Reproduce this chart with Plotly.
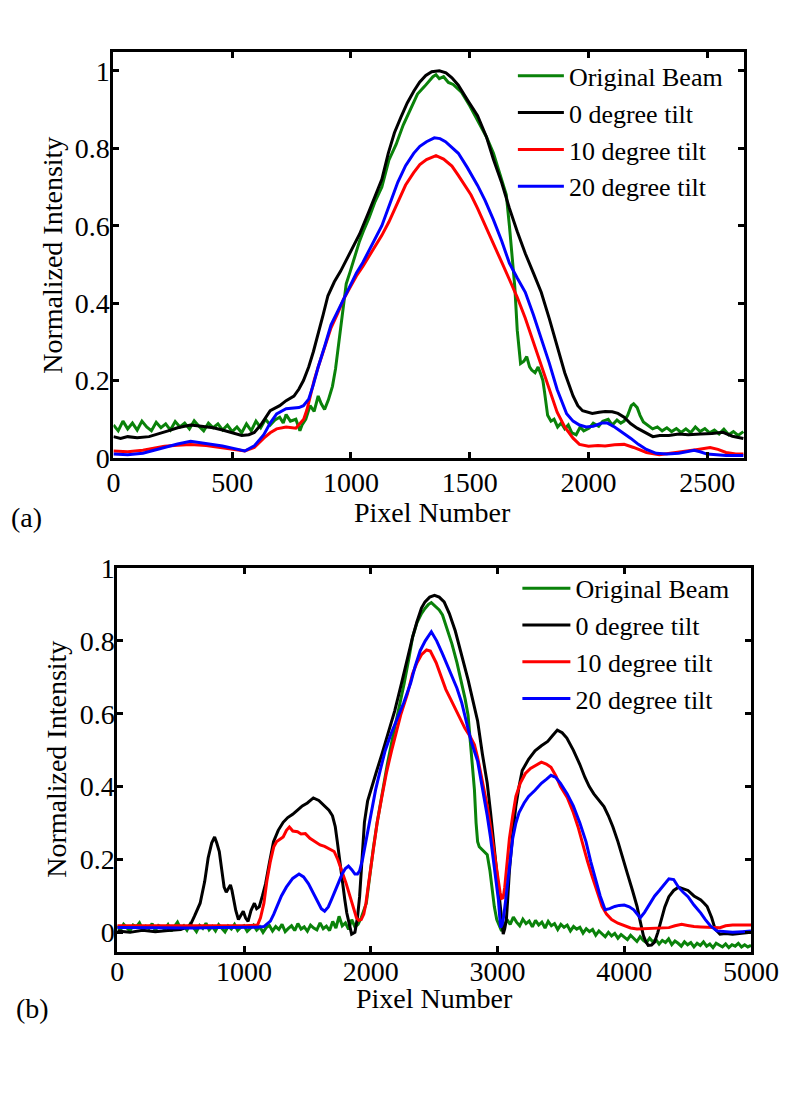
import plotly.graph_objects as go

# ---------------- (a) top panel data ----------------
a_green_x = [0, 20, 40, 60, 80, 100, 120, 140, 160, 180, 200, 220, 240, 260, 280, 300, 320, 340, 360, 380,
             400, 420, 440, 460, 480, 500, 520, 540, 560, 580, 600, 620, 640, 660, 680, 700, 715, 727, 745, 768,
             785, 794, 810, 828, 845, 862, 875, 889, 905, 922, 935, 949, 960, 969, 980, 996, 1015, 1036, 1055, 1076,
             1100, 1130, 1160, 1190, 1220, 1250, 1280, 1310, 1330, 1345, 1358, 1372, 1390, 1410, 1430, 1464, 1500, 1533, 1570, 1600,
             1630, 1654, 1667, 1680, 1690, 1700, 1714, 1728, 1740, 1752, 1761, 1775, 1788, 1800, 1808, 1815, 1828, 1842, 1855, 1870,
             1885, 1900, 1915, 1930, 1948, 1965, 1980, 2003, 2020, 2043, 2060, 2083, 2100, 2120, 2136, 2150, 2165, 2180, 2190, 2205,
             2217, 2231, 2250, 2270, 2290, 2310, 2330, 2350, 2370, 2390, 2410, 2430, 2450, 2470, 2490, 2510, 2530, 2550, 2570, 2590,
             2610, 2630, 2652]
a_green_y = [0.085, 0.07, 0.095, 0.075, 0.09, 0.072, 0.095, 0.08, 0.07, 0.092, 0.078, 0.088, 0.072, 0.094, 0.08, 0.09, 0.075, 0.096, 0.082, 0.07,
             0.09, 0.078, 0.088, 0.072, 0.085, 0.068, 0.08, 0.065, 0.088, 0.07, 0.095, 0.078, 0.1, 0.085, 0.098, 0.105, 0.09, 0.112, 0.095, 0.1,
             0.07, 0.085, 0.1, 0.135, 0.12, 0.16, 0.14, 0.125, 0.15, 0.185, 0.23, 0.3, 0.36, 0.41, 0.45, 0.48, 0.52, 0.56, 0.59, 0.62,
             0.66, 0.7, 0.77, 0.81, 0.86, 0.9, 0.94, 0.96, 0.975, 0.985, 0.99, 0.98, 0.985, 0.97, 0.965, 0.946, 0.91, 0.871, 0.83, 0.787,
             0.73, 0.68, 0.6, 0.5, 0.44, 0.33, 0.244, 0.25, 0.262, 0.235, 0.227, 0.22, 0.235, 0.215, 0.2, 0.17, 0.11, 0.095, 0.1, 0.08,
             0.09, 0.075, 0.085, 0.065, 0.06, 0.08, 0.07, 0.077, 0.09, 0.082, 0.095, 0.1, 0.085, 0.098, 0.09, 0.095, 0.11, 0.135, 0.14, 0.13,
             0.11, 0.093, 0.085, 0.075, 0.08, 0.07, 0.078, 0.068, 0.076, 0.066, 0.075, 0.065, 0.08, 0.068, 0.076, 0.065, 0.072, 0.062, 0.074, 0.06,
             0.068, 0.058, 0.068]

a_black_x = [0, 30, 60, 100, 150, 191, 230, 270, 325, 370, 420, 459, 500, 540, 570, 593, 620, 660, 700, 727,
             760, 781, 800, 822, 842, 862, 883, 903, 930, 956, 996, 1036, 1076, 1100, 1130, 1157, 1183, 1210, 1237, 1265,
             1289, 1315, 1340, 1372, 1400, 1425, 1452, 1490, 1533, 1570, 1600, 1635, 1667, 1700, 1734, 1770, 1801, 1835, 1868, 1900,
             1935, 1955, 1975, 2000, 2016, 2045, 2070, 2100, 2124, 2150, 2177, 2205, 2231, 2271, 2300, 2338, 2380, 2420, 2472, 2520,
             2566, 2606, 2652]
a_black_y = [0.055, 0.05, 0.055, 0.052, 0.055, 0.062, 0.07, 0.078, 0.085, 0.082, 0.078, 0.072, 0.065, 0.058, 0.06, 0.066, 0.085, 0.122, 0.135, 0.148,
             0.16, 0.178, 0.2, 0.235, 0.275, 0.319, 0.37, 0.419, 0.455, 0.482, 0.528, 0.578, 0.637, 0.675, 0.72, 0.787, 0.84, 0.88, 0.917, 0.948,
             0.971, 0.988, 0.998, 1.0, 0.995, 0.982, 0.963, 0.925, 0.884, 0.83, 0.771, 0.71, 0.645, 0.585, 0.528, 0.475, 0.428, 0.36, 0.286, 0.22,
             0.16, 0.135, 0.122, 0.117, 0.115, 0.118, 0.12, 0.119, 0.115, 0.105, 0.089, 0.077, 0.068, 0.055, 0.058, 0.058, 0.062, 0.06, 0.062, 0.063,
             0.066, 0.056, 0.05]

a_red_x = [0, 60, 124, 170, 215, 270, 325, 390, 459, 510, 553, 593, 633, 660, 687, 727, 768, 801, 815, 828,
           845, 862, 890, 916, 945, 969, 1000, 1023, 1050, 1076, 1103, 1130, 1160, 1197, 1230, 1264, 1290, 1318, 1358, 1390,
           1425, 1452, 1479, 1505, 1533, 1565, 1600, 1635, 1667, 1700, 1734, 1768, 1801, 1835, 1868, 1900, 1935, 1962, 2000, 2040,
           2070, 2110, 2150, 2190, 2244, 2298, 2350, 2405, 2460, 2512, 2545, 2579, 2620, 2652]
a_red_y = [0.018, 0.016, 0.02, 0.025, 0.03, 0.033, 0.035, 0.032, 0.027, 0.022, 0.018, 0.027, 0.051, 0.065, 0.075, 0.08, 0.077, 0.1, 0.125, 0.16,
           0.2, 0.235, 0.29, 0.336, 0.375, 0.41, 0.445, 0.47, 0.495, 0.52, 0.548, 0.575, 0.61, 0.662, 0.705, 0.737, 0.758, 0.771, 0.781, 0.772,
           0.754, 0.73, 0.704, 0.68, 0.645, 0.6, 0.55, 0.505, 0.461, 0.415, 0.361, 0.3, 0.235, 0.175, 0.118, 0.08, 0.051, 0.035, 0.03, 0.032,
           0.031, 0.034, 0.035, 0.027, 0.014, 0.008, 0.012, 0.018, 0.022, 0.027, 0.022, 0.014, 0.01, 0.01]

a_blue_x = [0, 60, 124, 170, 215, 270, 325, 390, 459, 510, 553, 593, 633, 660, 687, 727, 760, 781, 800, 822,
            842, 862, 890, 916, 945, 969, 1000, 1023, 1050, 1076, 1103, 1130, 1160, 1197, 1230, 1264, 1290, 1318, 1351, 1375,
            1398, 1425, 1452, 1490, 1533, 1565, 1600, 1635, 1667, 1700, 1734, 1768, 1801, 1835, 1868, 1908, 1935, 1962, 1990, 2020,
            2056, 2080, 2110, 2140, 2177, 2210, 2244, 2285, 2330, 2380, 2420, 2445, 2470, 2499, 2540, 2579, 2620, 2652]
a_blue_y = [0.01, 0.008, 0.012, 0.02, 0.027, 0.036, 0.043, 0.038, 0.031, 0.024, 0.018, 0.031, 0.06, 0.09, 0.114, 0.127, 0.13, 0.13, 0.135, 0.152,
            0.19, 0.235, 0.29, 0.344, 0.38, 0.41, 0.447, 0.478, 0.505, 0.537, 0.57, 0.6, 0.65, 0.712, 0.755, 0.787, 0.805, 0.817, 0.827, 0.825,
            0.817, 0.803, 0.787, 0.75, 0.704, 0.665, 0.615, 0.56, 0.503, 0.465, 0.428, 0.37, 0.311, 0.245, 0.177, 0.114, 0.095, 0.085, 0.08, 0.082,
            0.09, 0.09, 0.08, 0.068, 0.051, 0.035, 0.022, 0.012, 0.01, 0.012, 0.018, 0.02, 0.016, 0.01, 0.008, 0.006, 0.006, 0.006]

# ---------------- (b) bottom panel data ----------------
b_green_x = [0, 25, 50, 75, 100, 125, 150, 175, 200, 225, 250, 275, 300, 325, 350, 375, 400, 425, 450, 475,
             500, 525, 550, 575, 600, 625, 650, 675, 700, 725, 750, 775, 800, 825, 850, 875, 900, 925, 950, 975,
             1000, 1025, 1050, 1075, 1100, 1125, 1150, 1175, 1200, 1225, 1250, 1275, 1300, 1325, 1350, 1375, 1400, 1425, 1450, 1475,
             1500, 1525, 1550, 1575, 1600, 1625, 1650, 1675, 1700, 1725, 1750, 1775, 1800, 1825, 1850, 1875, 1900, 1925,
             1965, 1990, 2020, 2050, 2088, 2130, 2170, 2220, 2264, 2300, 2330, 2365, 2400, 2428, 2455, 2478, 2510, 2540, 2566, 2600,
             2641, 2680, 2717, 2745, 2768, 2790, 2805, 2818, 2831, 2843, 2856, 2869, 2895, 2919, 2940, 2956, 2975, 2994, 3015, 3032,
             3050, 3075, 3100, 3125, 3150, 3175, 3200, 3225, 3250, 3275, 3300, 3325, 3350, 3375, 3400, 3425, 3450, 3475, 3500, 3525,
             3550, 3575, 3600, 3625, 3650, 3675, 3700, 3725, 3750, 3775, 3800, 3825, 3850, 3875, 3900, 3925, 3950, 3975, 4000, 4025,
             4050, 4075, 4100, 4125, 4150, 4175, 4200, 4225, 4250, 4275, 4300, 4325, 4350, 4375, 4400, 4425, 4450, 4475, 4500, 4525,
             4550, 4575, 4600, 4625, 4650, 4675, 4700, 4725, 4750, 4775, 4800, 4825, 4850, 4875, 4900, 4925, 4950, 4975, 5000]
b_green_y = [0.018, 0.006, 0.022, 0.012, 0.004, 0.02, 0.015, 0.026, 0.008, 0.017, 0.011, 0.024, 0.005, 0.019, 0.013, 0.009, 0.021, 0.003, 0.016, 0.028,
             0.01, 0.018, 0.006, 0.023, 0.014, 0.002, 0.019, 0.011, 0.025, 0.007, 0.016, 0.004, 0.021, 0.012, 0.001, 0.017, 0.009, 0.022, 0.005, 0.014,
             0.018, 0.003, 0.012, 0.02, 0.006, 0.015, 0.0, 0.013, 0.019, 0.004, 0.016, 0.008, 0.022, 0.002, 0.011, 0.018, 0.005, 0.024, 0.009, 0.015,
             0.003, 0.02, 0.012, 0.007, 0.026, 0.01, 0.017, 0.005, 0.03, 0.012, 0.044, 0.018, 0.026, 0.008, 0.035, 0.015, 0.022, 0.04,
             0.08, 0.15, 0.23, 0.3, 0.38, 0.46, 0.53, 0.61, 0.684, 0.75, 0.81, 0.85, 0.875, 0.889, 0.9, 0.905, 0.895, 0.885, 0.871, 0.835,
             0.791, 0.74, 0.684, 0.64, 0.595, 0.5, 0.43, 0.391, 0.3, 0.249, 0.235, 0.231, 0.222, 0.213, 0.17, 0.124, 0.07, 0.035, 0.015, 0.004,
             0.015, 0.035, 0.022, 0.042, 0.028, 0.018, 0.036, 0.024, 0.031, 0.015, 0.033, 0.02, 0.028, 0.012, 0.03, 0.018, 0.024, 0.008, 0.022, 0.014,
             0.02, 0.004, 0.016, 0.009, 0.014, -0.002, 0.01, 0.002, 0.008, -0.008, 0.004, -0.004, -0.012, 0.0, -0.01, -0.003, -0.016, -0.006, -0.012, -0.02,
             -0.008, -0.018, -0.025, -0.012, -0.022, -0.028, -0.016, -0.026, -0.02, -0.032, -0.022, -0.028, -0.018, -0.034, -0.024, -0.03, -0.038, -0.026, -0.034, -0.028,
             -0.04, -0.03, -0.036, -0.026, -0.038, -0.032, -0.042, -0.03, -0.036, -0.04, -0.032, -0.042, -0.034, -0.038, -0.03, -0.04, -0.034, -0.04, -0.036]

b_black_x = [0, 100, 200, 300, 400, 500, 554, 579, 610, 654, 690, 717, 745, 768, 785, 805, 825, 843, 860, 880,
             893, 905, 918, 935, 956, 975, 994, 1012, 1032, 1055, 1082, 1100, 1120, 1145, 1170, 1200, 1233, 1270, 1309, 1345,
             1384, 1420, 1460, 1500, 1547, 1590, 1636, 1670, 1698, 1720, 1736, 1755, 1774, 1795, 1811, 1830, 1849, 1875, 1895, 1912,
             1930, 1950, 1975, 2000, 2044, 2088, 2140, 2189, 2240, 2290, 2330, 2365, 2400, 2428, 2465, 2503, 2540, 2579, 2620, 2667,
             2720, 2768, 2810, 2843, 2881, 2919, 2945, 2969, 2990, 3007, 3020, 3032, 3045, 3057, 3070, 3082, 3094, 3120, 3145, 3170,
             3195, 3245, 3296, 3346, 3396, 3435, 3472, 3510, 3547, 3598, 3648, 3690, 3724, 3760, 3799, 3840, 3875, 3910, 3950, 3990,
             4026, 4065, 4101, 4126, 4151, 4170, 4189, 4215, 4239, 4265, 4290, 4320, 4352, 4390, 4428, 4465, 4503, 4550, 4604, 4630,
             4654, 4690, 4717, 4755, 4800, 4855, 4920, 5000]
b_black_y = [0.004, 0.0, 0.006, 0.002, 0.005, 0.008, 0.015, 0.022, 0.045, 0.08, 0.14, 0.204, 0.245, 0.262, 0.245, 0.222, 0.17, 0.124, 0.11, 0.125,
             0.13, 0.115, 0.093, 0.06, 0.035, 0.045, 0.058, 0.04, 0.03, 0.06, 0.08, 0.065, 0.07, 0.1, 0.133, 0.19, 0.249, 0.28, 0.302, 0.315,
             0.324, 0.335, 0.347, 0.355, 0.369, 0.362, 0.347, 0.335, 0.32, 0.29, 0.249, 0.195, 0.142, 0.09, 0.053, 0.02, -0.005, 0.0, 0.04, 0.098,
             0.2, 0.302, 0.36, 0.391, 0.44, 0.489, 0.55, 0.608, 0.68, 0.755, 0.81, 0.853, 0.89, 0.907, 0.92, 0.925, 0.92, 0.907, 0.875, 0.827,
             0.76, 0.693, 0.63, 0.58, 0.489, 0.409, 0.33, 0.249, 0.18, 0.124, 0.07, 0.035, -0.005, 0.01, 0.035, 0.1, 0.169, 0.27, 0.347, 0.4,
             0.444, 0.475, 0.498, 0.512, 0.524, 0.54, 0.555, 0.548, 0.533, 0.5, 0.462, 0.425, 0.4, 0.38, 0.364, 0.345, 0.32, 0.29, 0.249, 0.205,
             0.16, 0.115, 0.071, 0.03, -0.009, -0.025, -0.036, -0.035, -0.027, 0.0, 0.035, 0.07, 0.098, 0.115, 0.124, 0.12, 0.115, 0.1, 0.089, 0.08,
             0.071, 0.04, 0.009, -0.005, -0.003, -0.005, -0.002, 0.0]

b_red_x = [0, 200, 400, 600, 800, 1000, 1107, 1130, 1157, 1180, 1208, 1235, 1258, 1285, 1309, 1335, 1358, 1385, 1422, 1450,
           1484, 1520, 1560, 1600, 1636, 1675, 1711, 1740, 1774, 1805, 1837, 1862, 1887, 1905, 1925, 1945, 1962, 1985, 2013, 2050,
           2088, 2125, 2164, 2200, 2239, 2290, 2330, 2365, 2400, 2440, 2470, 2516, 2555, 2592, 2630, 2667, 2705, 2743, 2780, 2818,
           2843, 2880, 2919, 2945, 2969, 2990, 3007, 3020, 3032, 3045, 3057, 3075, 3094, 3120, 3145, 3180, 3220, 3260, 3296, 3346,
           3385, 3422, 3460, 3497, 3550, 3598, 3635, 3673, 3710, 3749, 3785, 3825, 3860, 3900, 3950, 4000, 4050, 4101, 4160, 4227,
           4290, 4352, 4400, 4453, 4500, 4550, 4604, 4680, 4755, 4800, 4855, 4930, 5000]
b_red_y = [0.018, 0.018, 0.017, 0.018, 0.017, 0.018, 0.02, 0.04, 0.08, 0.14, 0.195, 0.235, 0.249, 0.255, 0.262, 0.28, 0.289, 0.278, 0.276, 0.27,
           0.271, 0.258, 0.249, 0.24, 0.236, 0.228, 0.222, 0.2, 0.169, 0.135, 0.098, 0.065, 0.04, 0.033, 0.035, 0.05, 0.08, 0.14, 0.213, 0.3,
           0.373, 0.44, 0.498, 0.545, 0.6, 0.655, 0.71, 0.74, 0.762, 0.775, 0.772, 0.74, 0.705, 0.667, 0.64, 0.613, 0.585, 0.56, 0.54, 0.515,
           0.48, 0.415, 0.347, 0.29, 0.231, 0.18, 0.142, 0.11, 0.093, 0.095, 0.124, 0.19, 0.258, 0.32, 0.373, 0.41, 0.436, 0.45, 0.458, 0.467,
           0.462, 0.453, 0.43, 0.4, 0.37, 0.329, 0.29, 0.24, 0.195, 0.151, 0.11, 0.071, 0.05, 0.035, 0.025, 0.018, 0.012, 0.009, 0.01, 0.011,
           0.012, 0.013, 0.018, 0.022, 0.019, 0.016, 0.015, 0.013, 0.013, 0.018, 0.02, 0.02, 0.02]

b_blue_x = [0, 200, 400, 600, 800, 1000, 1100, 1157, 1208, 1235, 1258, 1295, 1334, 1384, 1434, 1470, 1509, 1550, 1585, 1610,
            1636, 1665, 1690, 1711, 1740, 1774, 1800, 1824, 1850, 1875, 1895, 1912, 1935, 1962, 2000, 2038, 2075, 2113, 2160, 2214,
            2260, 2315, 2350, 2390, 2430, 2478, 2520, 2566, 2600, 2641, 2680, 2717, 2755, 2792, 2843, 2880, 2919, 2945, 2969, 2990,
            3007, 3018, 3025, 3035, 3045, 3065, 3082, 3100, 3120, 3145, 3170, 3210, 3245, 3296, 3346, 3385, 3422, 3460, 3497, 3550,
            3598, 3650, 3698, 3735, 3774, 3810, 3849, 3885, 3925, 3960, 4000, 4040, 4075, 4100, 4126, 4160, 4202, 4240, 4277, 4315,
            4352, 4390, 4428, 4465, 4503, 4550, 4604, 4640, 4679, 4730, 4790, 4855, 4930, 5000]
b_blue_y = [0.013, 0.012, 0.013, 0.012, 0.013, 0.013, 0.014, 0.016, 0.031, 0.05, 0.071, 0.1, 0.124, 0.148, 0.16, 0.152, 0.133, 0.105, 0.08, 0.065,
            0.058, 0.07, 0.09, 0.107, 0.135, 0.16, 0.175, 0.182, 0.172, 0.16, 0.16, 0.169, 0.2, 0.249, 0.32, 0.391, 0.445, 0.498, 0.545, 0.59,
            0.63, 0.684, 0.73, 0.773, 0.8, 0.825, 0.8, 0.764, 0.735, 0.702, 0.67, 0.631, 0.58, 0.524, 0.47, 0.4, 0.32, 0.26, 0.195, 0.14,
            0.089, 0.04, 0.013, 0.02, 0.035, 0.09, 0.142, 0.2, 0.258, 0.3, 0.329, 0.355, 0.373, 0.39, 0.409, 0.42, 0.431, 0.425, 0.409, 0.38,
            0.347, 0.3, 0.249, 0.195, 0.142, 0.1, 0.062, 0.065, 0.071, 0.074, 0.075, 0.07, 0.062, 0.05, 0.04, 0.055, 0.08, 0.1, 0.115, 0.132,
            0.147, 0.145, 0.124, 0.11, 0.098, 0.075, 0.053, 0.035, 0.018, 0.004, 0.002, 0.0, 0.002, 0.004]

series_names = ["Original Beam", "0 degree tilt", "10 degree tilt", "20 degree tilt"]
series_colors = ["#0a820a", "#000000", "#ff0000", "#0000ff"]

a_x_ticks = [0, 500, 1000, 1500, 2000, 2500]
b_x_ticks = [0, 1000, 2000, 3000, 4000, 5000]
a_y_ticks = [0, 0.2, 0.4, 0.6, 0.8, 1]
a_y_labels = ["0", "0.2", "0.4", "0.6", "0.8", "1"]
b_y_ticks = [0, 0.2, 0.4, 0.6, 0.8, 1]
b_y_labels = ["0", "0.2", "0.4", "0.6", "0.8", "1"]

# The page keeps the browser's default 8px body margin, so the figure is sized
# to fill the rest of the 809x1097 window exactly, and positions below are page pixels.
PAGE_OFF = 8
W, H = 809 - PAGE_OFF, 1097 - 2 * PAGE_OFF
FONT = "Liberation Serif, Times New Roman, serif"

fig = go.Figure()

a_sets = [(a_green_x, a_green_y), (a_black_x, a_black_y), (a_red_x, a_red_y), (a_blue_x, a_blue_y)]
b_sets = [(b_green_x, b_green_y), (b_black_x, b_black_y), (b_red_x, b_red_y), (b_blue_x, b_blue_y)]

for (xs, ys), name, col in zip(a_sets, series_names, series_colors):
    fig.add_trace(go.Scatter(x=xs, y=ys, mode="lines", name=name,
                             line=dict(color=col, width=3), xaxis="x", yaxis="y",
                             legend="legend"))
for (xs, ys), name, col in zip(b_sets, series_names, series_colors):
    fig.add_trace(go.Scatter(x=xs, y=ys, mode="lines", name=name,
                             line=dict(color=col, width=3), xaxis="x2", yaxis="y2",
                             legend="legend2"))

axis_common = dict(showline=True, linewidth=3, linecolor="black", mirror="ticks",
                   ticks="inside", ticklen=6, tickwidth=2.5, tickcolor="black",
                   showgrid=False, zeroline=False, ticklabeloverflow="allow",
                   tickfont=dict(family=FONT, size=28, color="black"))


def px_x(p):
    return (p - PAGE_OFF) / W


def px_y(p):
    return 1 - (p - PAGE_OFF) / H


fig.update_layout(
    width=W, height=H,
    margin=dict(l=0, r=0, t=0, b=0),
    paper_bgcolor="white", plot_bgcolor="white",
    xaxis=dict(domain=[px_x(119.3), px_x(779)], range=[0, 2656], anchor="y",
               ticklabelstandoff=-3,
               tickvals=a_x_ticks, ticktext=[str(v) for v in a_x_ticks], **axis_common),
    yaxis=dict(domain=[px_y(464), px_y(46)], range=[0, 1.049], anchor="x",
               ticklabelstandoff=-5,
               tickvals=a_y_ticks, ticktext=a_y_labels, **axis_common),
    xaxis2=dict(domain=[px_x(123.3), px_x(786)], range=[0, 5000], anchor="y2",
                ticklabelstandoff=-8,
                tickvals=b_x_ticks, ticktext=[str(v) for v in b_x_ticks], **axis_common),
    yaxis2=dict(domain=[px_y(972.7), px_y(577.3)], range=[-0.054, 1.0], anchor="x2",
                ticklabelstandoff=-6,
                tickvals=b_y_ticks, ticktext=b_y_labels, **axis_common),
    legend=dict(x=px_x(537), y=px_y(46.5), xanchor="left", yanchor="top",
                bgcolor="rgba(0,0,0,0)", borderwidth=0, itemwidth=46,
                font=dict(family=FONT, size=26, color="black"), tracegroupgap=0),
    legend2=dict(x=px_x(541.7), y=px_y(574), xanchor="left", yanchor="top",
                 bgcolor="rgba(0,0,0,0)", borderwidth=0, itemwidth=48,
                 font=dict(family=FONT, size=26, color="black"), tracegroupgap=0),
    showlegend=True,
)

ann_font = dict(family=FONT, size=28, color="black")
annotations = [
    dict(text="Normalized Intensity", x=px_x(56), y=px_y(255), textangle=-90),
    dict(text="Pixel Number", x=px_x(453), y=px_y(520)),
    dict(text="(a)", x=px_x(28), y=px_y(525)),
    dict(text="Normalized Intensity", x=px_x(59), y=px_y(774), textangle=-90),
    dict(text="Pixel Number", x=px_x(455), y=px_y(1021)),
    dict(text="(b)", x=px_x(35), y=px_y(1031)),
]
for a in annotations:
    fig.add_annotation(xref="paper", yref="paper", xanchor="center", yanchor="middle",
                       showarrow=False, font=ann_font, **a)

fig.write_html("out.html")
